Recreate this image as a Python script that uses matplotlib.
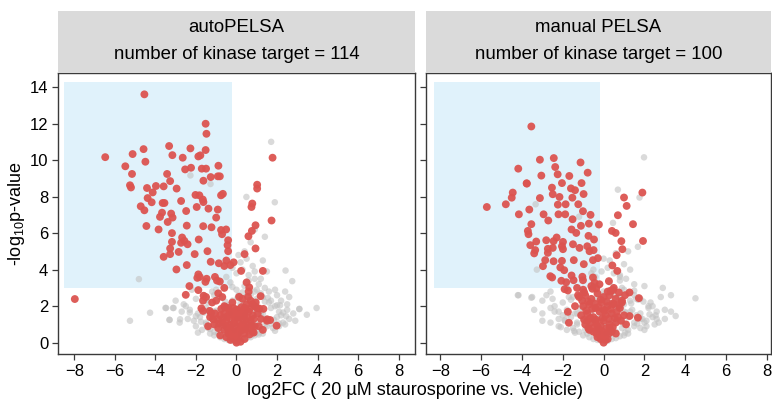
import matplotlib
matplotlib.use('Agg')
import matplotlib.pyplot as plt
from matplotlib.patches import Rectangle

plt.rcParams['font.family'] = ['Liberation Sans', 'DejaVu Sans']
plt.rcParams['mathtext.fontset'] = 'custom'
plt.rcParams['mathtext.rm'] = 'Liberation Sans'
plt.rcParams['mathtext.it'] = 'Liberation Sans:italic'

# panel titles
titles = ['autoPELSA', 'manual PELSA']
n_targets = [114, 100]

# shaded region (log2FC range, -log10 p range)
box_auto = [-8.5, -0.23, 3.0, 14.27]
box_manual = [-8.33, -0.2, 3.0, 14.27]

# ---- autoPELSA: kinase targets (red)
red_auto_x = [-4.54, -6.47, -5.48, -5.12, -5.15, -5.25, -5.2, -4.58, -4.49, -4.41,
              -4.13, -3.97, -3.59, -4.38, -3.32, -3.16, -3.42, -3.27, -2.95, -2.65,
              -2.53, -2.27, -2.24, -1.88, -1.78, -1.52, -1.48, -1.52, -1.71, -1.5,
              -1.63, -1.27, -0.89, -0.92, -0.82, -1.83, -0.76, -0.67, 1.78, 1.02,
              1.02, -4.18, -4.72, -4.54, -3.64, -3.55, -2.73, -2.02, -1.66, -1.63,
              0.78, 0.74, 1.73, 0.94, 0.76, 0.59, 0.94, 0.4, 1.3, 0.23,
              -3.67, -3.77, -3.22, -3.15, -3.39, -2.48, -1.96, -1.38, -0.92, -1.0,
              -4.44, -3.84, -3.18, -2.45, -1.64, -1.23, -0.76, -0.51, -0.71, -1.86,
              -2.68, -2.57, -2.73, -2.41, -3.18, -3.27, -2.85, -3.27, -3.59, -1.43,
              -2.06, -0.41, -0.44, -0.41, -1.27, -0.87, -0.6, -0.5, -0.3, -0.14,
              -2.45, -2.96, -1.88, -1.81, -1.93, -1.47, -1.53, -1.06, -0.96, -0.82,
              -2.32, -1.88, -2.5, -7.97, -1.62, -1.65, -1.73, -1.65, -1.32, -1.25,
              -1.15, 0.13, 0.63, 0.57, 1.19, 0.8, 1.12, 1.33, 1.51, 1.66, 1.98,
              -0.8, -0.6, -0.4, -0.2, 0.0, 0.2, 0.4, 0.6, 0.8, -0.7,
              -0.5, -0.3, -0.1, 0.1, 0.3, 0.5, 0.7, -0.9, -0.6, -0.3,
              0.0, 0.3, 0.6, 0.9, -0.8, -0.4, 0.0, 0.4, 0.8, -0.5,
              -0.2, 0.1, 0.4, -0.3, 0.0, 0.2, -0.1, 0.0, 0.1, -0.6,
              0.5, -1.0, 1.0, -0.2, 0.3, -0.7, 0.7, -0.4, 0.4, 0.0,
              -1.3, -1.1, -1.4, -0.9, 1.2, 1.5, 1.1, 0.6, 0.9, -1.2,
              -0.6, 0.5, 1.3, -1.5,
              -0.75, -0.55, -0.35, -0.15, 0.05, 0.25, 0.45, 0.65, 0.85, -0.65,
              -0.45, -0.25, -0.05, 0.15, 0.35, 0.55, 0.75, -0.85, -0.35, 0.05,
              0.45, 0.85, -0.55, -0.15, 0.25, 0.65, -0.25, 0.15, -0.05, 0.05,
              1.05, -1.05, 0.95, -0.95, 0.35, -0.45]
red_auto_y = [13.6, 10.16, 9.66, 10.33, 9.24, 8.62, 8.5, 10.6, 9.91, 8.47,
              8.23, 8.58, 8.56, 7.92, 10.77, 10.27, 9.24, 8.85, 8.44, 10.13,
              9.49, 10.64, 9.58, 10.2, 10.26, 11.99, 11.44, 10.55, 9.53, 9.53,
              8.87, 9.07, 9.69, 9.11, 9.11, 8.07, 8.07, 8.15, 10.13, 8.65,
              8.44, 7.69, 7.47, 7.25, 7.65, 7.65, 7.76, 8.09, 7.84, 7.7,
              7.62, 7.43, 6.69, 6.43, 6.12, 5.83, 5.16, 4.85, 3.93, 3.93,
              7.12, 6.89, 7.07, 6.85, 6.61, 7.21, 7.43, 7.34, 7.29, 6.85,
              6.39, 6.2, 6.0, 6.41, 6.38, 6.32, 6.17, 6.2, 5.94, 5.65,
              5.76, 5.58, 5.47, 5.39, 5.52, 5.16, 4.97, 4.85, 4.7, 5.01,
              4.85, 5.61, 5.34, 5.01, 4.43, 4.35, 4.2, 4.5, 4.25, 4.4,
              4.25, 4.01, 3.74, 3.6, 3.55, 3.5, 3.33, 3.6, 3.4, 3.35,
              3.1, 2.88, 2.62, 2.39, 2.57, 2.3, 1.88, 1.74, 1.74, 1.62,
              1.28, 2.51, 3.03, 2.51, 2.55, 2.11, 1.87, 1.85, 1.28, 1.24, 0.93,
              1.5, 1.6, 1.4, 1.7, 1.5, 1.6, 1.4, 1.7, 1.5, 1.1,
              1.2, 1.0, 1.2, 1.1, 1.3, 1.0, 1.2, 0.8, 0.7, 0.8,
              0.9, 0.7, 0.8, 0.9, 0.4, 0.5, 0.4, 0.5, 0.6, 0.3,
              0.25, 0.3, 0.2, 0.15, 0.1, 0.05, 0.5, 0.0, 0.6, 2.0,
              2.1, 2.3, 1.9, 2.2, 2.4, 2.5, 2.3, 1.9, 1.9, 1.8,
              1.4, 1.0, 0.9, 2.7, 1.3, 1.2, 0.9, 2.8, 2.0, 2.2,
              3.0, 3.3, 0.7, 2.5,
              1.85, 1.95, 1.75, 1.9, 1.8, 1.95, 1.75, 1.85, 1.3, 1.35,
              1.45, 1.55, 1.35, 1.45, 1.55, 1.35, 0.95, 1.05, 0.55, 0.65,
              0.75, 0.55, 0.95, 1.05, 0.95, 0.45, 0.6, 0.75, 0.3, 0.45,
              1.6, 1.6, 2.2, 1.3, 1.0, 0.8]

# ---- autoPELSA: other proteins (grey)
grey_auto_x = [-1.1, -0.8, -0.6, -0.4, -0.2, 0.1, 0.3, 0.5, 0.7, 0.9, 1.1, -0.9, -0.5, 0.2, 0.6, 1.3,
               -2.0, -1.7, -1.4, -1.1, -0.8, -0.5, -0.2, 0.3, 0.6, 0.9, 1.2, 1.5, 1.8, 2.1, -1.5, -0.9, 0.0, 0.8, 1.4, 2.4,
               -2.8, -2.4, -2.1, -1.8, -1.5, -1.2, -0.9, -0.6, -0.3, 0.2, 0.5, 0.8, 1.1, 1.4, 1.7, 2.0, 2.3, 2.6, 2.9,
               -3.3, -2.0, -1.0, 0.4, 1.2, 2.2,
               -3.5, -3.1, -2.7, -2.3, -1.9, -1.5, -1.1, -0.7, -0.3, 0.1, 0.5, 0.9, 1.3, 1.7, 2.1, 2.5, 2.8, 3.1,
               -2.5, -0.5, 0.7, 1.9,
               -3.0, -2.6, -2.0, -1.4, -0.8, -0.2, 0.4, 1.0, 1.6, 2.2, 2.6, -1.1, 0.1, 0.7, 1.3, 2.0,
               -2.2, -1.2, -0.6, 0.0, 0.4, 0.9, 1.4, 1.9, 2.4, -0.3, 0.6, 1.1,
               -0.5, 0.0, 0.3, 0.6, 0.9, 1.2, 0.2, 0.5, 0.8, -0.2, 0.4, 1.5, 0.1,
               1.71, 0.49, 1.89, 3.95, 3.47, 3.1, 2.75, 2.42, -5.25, -4.26, -4.81,
               -3.47, -3.13, -3.3, -2.78, 0.9, 1.4, -2.27, -1.28, 0.7, 1.3,
               -1.9, -1.6, -1.3, -1.0, -0.7, -0.4, -0.1, 0.2, 0.5, 0.8,
               1.1, 1.4, 1.7, 2.0, 2.3, -1.75, -1.45, -1.15, -0.85, -0.55,
               -0.25, 0.05, 0.35, 0.65, 0.95, 1.25, 1.55, 1.85, 2.15, 2.45,
               -2.3, -1.0, 0.3, 1.0, 1.7, 2.5, -0.2, 0.5, 1.2, -1.6,
               0.9, 1.6, 2.1, -0.6, 0.2, 0.6, 1.0, 1.9, -1.3, 0.0]
grey_auto_y = [0.4, 0.3, 0.2, 0.15, 0.1, 0.1, 0.2, 0.25, 0.3, 0.4, 0.45, 0.5, 0.45, 0.35, 0.45, 0.5,
               0.9, 0.7, 0.8, 0.6, 0.7, 0.6, 0.8, 0.7, 0.6, 0.8, 0.7, 0.9, 0.8, 0.9, 1.0, 0.9, 0.95, 1.0, 0.95, 1.0,
               1.1, 1.3, 1.2, 1.4, 1.1, 1.3, 1.2, 1.4, 1.1, 1.3, 1.2, 1.4, 1.1, 1.3, 1.2, 1.4, 1.1, 1.3, 1.2,
               1.25, 1.45, 1.0, 1.5, 1.5, 1.5,
               1.9, 1.9, 1.7, 1.8, 1.6, 1.9, 1.7, 1.8, 1.6, 1.9, 1.7, 1.8, 1.6, 1.9, 1.7, 1.8, 1.6, 1.85,
               2.0, 2.0, 2.0, 2.0,
               2.3, 2.1, 2.4, 2.2, 2.5, 2.3, 2.2, 2.4, 2.2, 2.3, 2.5, 2.6, 2.6, 2.6, 2.5, 2.6,
               2.9, 2.8, 3.0, 2.9, 3.1, 2.8, 3.0, 2.9, 2.8, 3.3, 3.4, 3.2,
               3.6, 3.8, 4.0, 3.7, 3.9, 3.5, 4.4, 4.6, 4.2, 4.1, 5.0, 3.9, 4.8,
               11.0, 7.98, 7.69, 1.9, 1.53, 1.84, 3.37, 3.95, 1.2, 1.64, 3.48,
               1.9, 1.9, 1.25, 1.28, 6.2, 5.8, 9.16, 8.69, 5.5, 4.5,
               0.55, 1.65, 0.75, 1.75, 0.95, 2.05, 0.65, 2.15, 0.85, 1.95,
               0.55, 2.25, 1.05, 2.05, 1.65, 1.15, 2.35, 1.55, 1.25, 2.25,
               1.95, 2.45, 1.15, 2.35, 2.15, 1.75, 2.45, 1.25, 2.05, 1.45,
               1.65, 2.9, 2.75, 2.9, 2.3, 2.1, 3.05, 2.55, 2.7, 2.6,
               3.5, 2.8, 1.05, 0.9, 0.55, 1.15, 1.6, 0.65, 0.5, 1.3]

# ---- manual PELSA: kinase targets (red)
red_manual_x = [-3.54, -4.18, -3.12, -2.44, -2.37, -2.25, -1.13, -0.78, -3.05, -1.68,
                -3.77, -2.04, -1.08, -2.53, -1.6, -1.4, -2.49, -0.98, -4.45, 1.9,
                1.0, -5.72, -4.79, -4.5, -3.76, -4.15, -3.64, -3.12, -2.94, -2.71,
                -3.54, -3.71, -3.68, -2.16, -2.24, -1.86, -1.88, -2.21, -1.53, -1.24,
                -1.01, -0.64, -1.52, -1.11, -0.72, -0.23, -1.57, -1.34, -0.74, -0.47,
                -3.3, -2.81, -2.45, -2.3, -1.99, -3.59, -3.35, -3.4, -2.73, -2.73,
                -2.49, -2.04, -1.99, -1.5, -1.18, -0.8, -0.69, -0.49, -2.45, -2.86,
                -2.97, -2.04, -2.12, -1.93, -1.46, -0.97, -0.52, -0.28, -2.61, -2.52,
                -2.07, -1.83, -1.57, -1.47, -1.04, -1.01, -0.52, -0.44, -0.36, -1.91,
                -1.75, -1.75, -1.7, 0.41, 0.59, 0.7, 1.13, 1.44, 1.93, 0.87,
                0.92, 0.64, 0.43, 0.67, 0.26, 0.46, 1.27, 1.73, 1.27, 1.68,
                -1.2, -0.9, -0.6, -0.3, 0.0, 0.3, 0.6, 0.9, -1.0, -0.7,
                -0.4, -0.1, 0.2, 0.5, 0.8, -1.1, -0.8, -0.5, -0.2, 0.1,
                0.4, 0.7, 1.0, -0.9, -0.6, -0.3, 0.0, 0.3, 0.6, -0.5,
                -0.2, 0.1, 0.4, -0.3, 0.0, 0.2, -0.1, 0.0, 0.1, -1.3,
                -1.0, -0.6, 0.5, 0.9, -0.8, -0.4, 0.3, -1.4, 1.1, 0.0,
                -0.2, 0.2, -0.7, 0.6,
                -1.05, -0.75, -0.45, -0.15, 0.15, 0.45, 0.75, -0.85, -0.55, -0.25,
                0.05, 0.35, 0.65, -0.95, -0.65, -0.35, -0.05, 0.25, 0.55, 0.85,
                -0.75, -0.45, -0.15, 0.15, 0.45, -0.35, -0.05, 0.25, -0.15, 0.05,
                -1.25, 1.05, -0.95, 0.75, -0.55, 0.35]
red_manual_y = [11.84, 9.53, 10.02, 10.11, 9.62, 9.22, 9.87, 9.31, 9.15, 9.13,
                8.73, 8.74, 8.74, 8.49, 8.45, 8.35, 8.13, 8.14, 8.22, 8.22,
                7.95, 7.43, 7.58, 7.94, 8.71, 7.03, 7.29, 7.92, 7.03, 6.69,
                6.49, 6.12, 5.94, 7.98, 7.56, 7.58, 7.03, 7.03, 7.94, 7.58,
                7.2, 7.0, 6.76, 6.4, 6.52, 6.47, 6.2, 6.01, 5.85, 5.65,
                5.54, 5.61, 5.56, 5.76, 5.52, 5.34, 5.07, 4.89, 5.14, 4.92,
                5.19, 5.28, 5.12, 5.39, 5.19, 5.28, 5.01, 5.07, 4.46, 4.52,
                4.19, 4.48, 4.12, 3.97, 4.52, 4.3, 4.52, 4.63, 3.64, 3.57,
                3.39, 3.31, 3.68, 3.42, 3.61, 3.42, 3.57, 3.28, 2.97, 2.93,
                2.86, 1.69, 1.09, 6.12, 6.01, 6.98, 7.49, 6.49, 5.57, 5.56,
                5.12, 4.79, 4.23, 3.93, 3.37, 2.88, 2.75, 2.44, 1.46, 1.37,
                2.5, 2.6, 2.4, 2.7, 2.5, 2.6, 2.4, 2.3, 2.0, 2.1,
                1.9, 2.2, 2.0, 2.1, 1.9, 1.5, 1.6, 1.4, 1.7, 1.5,
                1.6, 1.4, 1.5, 1.0, 1.1, 0.9, 1.2, 1.0, 1.1, 0.6,
                0.7, 0.5, 0.6, 0.3, 0.25, 0.2, 0.4, 0.0, 0.15, 3.0,
                2.9, 3.1, 3.0, 2.2, 1.2, 1.2, 0.8, 2.0, 1.0, 1.8,
                3.2, 2.8, 0.7, 0.5,
                2.3, 2.25, 2.15, 2.35, 2.25, 2.15, 2.05, 1.75, 1.85, 1.95,
                1.75, 1.85, 1.7, 1.25, 1.35, 1.25, 1.35, 1.3, 1.35, 1.2,
                0.8, 0.85, 0.95, 0.8, 0.85, 0.5, 0.6, 0.5, 0.2, 0.35,
                2.6, 2.6, 2.75, 2.75, 2.95, 2.85]

# ---- manual PELSA: other proteins (grey)
grey_manual_x = [-1.0, -0.7, -0.5, -0.3, -0.1, 0.2, 0.4, 0.6, 0.8, 1.0, 1.2, -0.8, 0.3,
                 -2.2, -1.8, -1.5, -1.2, -0.9, -0.6, -0.3, 0.3, 0.6, 0.9, 1.2, 1.5, 1.8, 2.1, 2.5, -1.3, 0.0, 1.0,
                 -3.0, -2.6, -2.2, -1.9, -1.6, -1.3, -0.9, -0.5, -0.2, 0.2, 0.6, 0.9, 1.2, 1.5, 1.8, 2.1, 2.4, 2.7, 3.0,
                 -2.0, 0.4, 1.6,
                 -3.4, -3.0, -2.6, -2.2, -1.8, -1.4, -1.0, -0.6, -0.2, 0.2, 0.6, 1.0, 1.4, 1.8, 2.2, 2.6, 3.0, 3.3,
                 -2.4, 0.8,
                 -4.2, -3.5, -3.0, -2.5, -2.0, -1.5, -1.0, -0.4, 0.3, 0.8, 1.3, 1.8, 2.3, 2.8, 3.3, 4.5, -2.8, 0.0, 1.5,
                 -2.6, -1.8, -1.0, -0.5, 0.0, 0.5, 1.0, 1.5, 2.0, 2.9, 0.3, 0.8,
                 -0.4, -0.1, 0.2, 0.5, 0.8, 1.1, 0.3, 0.6, 1.0, 0.0, 1.3, -0.6,
                 1.98, 0.7, 1.76, 3.53, -4.17, -3.54, -3.33, -3.27, 1.68, 0.46,
                 -2.0, -1.2, -0.5, 1.2, 2.6,
                 -2.1, -1.75, -1.45, -1.15, -0.85, -0.55, -0.25, 0.15, 0.45, 0.75,
                 1.05, 1.35, 1.65, 1.95, 2.25, -1.9, -1.6, -1.3, -1.0, -0.7,
                 -0.4, 0.1, 0.4, 0.7, 1.0, 1.3, 1.6, 1.9, 2.2, 2.55,
                 -2.4, -1.1, 0.2, 0.9, 1.7, 2.4, -0.3, 0.5, 1.2, -1.7,
                 0.8, 1.5, 2.0, -0.7, 0.1, 0.6, 1.1, 2.0, -1.4, -0.1]
grey_manual_y = [0.4, 0.3, 0.2, 0.15, 0.1, 0.1, 0.2, 0.25, 0.35, 0.4, 0.5, 0.5, 0.45,
                 0.9, 0.7, 0.8, 0.6, 0.7, 0.6, 0.8, 0.7, 0.6, 0.8, 0.7, 0.9, 0.8, 0.9, 1.0, 1.0, 0.9, 1.0,
                 1.2, 1.1, 1.3, 1.2, 1.4, 1.1, 1.3, 1.2, 1.4, 1.1, 1.3, 1.2, 1.4, 1.1, 1.3, 1.2, 1.4, 1.1, 1.3,
                 1.5, 1.5, 1.5,
                 1.8, 1.6, 1.9, 1.7, 1.8, 1.6, 1.9, 1.7, 1.8, 1.6, 1.9, 1.7, 1.8, 1.6, 1.9, 1.7, 1.8, 1.7,
                 2.0, 2.0,
                 2.6, 2.5, 2.3, 2.4, 2.2, 2.5, 2.3, 2.4, 2.2, 2.5, 2.3, 2.4, 2.2, 2.5, 2.6, 2.43, 2.6, 2.6, 2.6,
                 2.8, 3.0, 2.9, 3.1, 2.8, 3.0, 2.9, 3.2, 3.1, 3.0, 3.3, 3.4,
                 3.6, 3.9, 4.1, 3.8, 3.7, 3.5, 4.5, 4.9, 4.3, 4.6, 4.0, 3.8,
                 10.15, 8.38, 7.95, 1.46, 2.6, 2.46, 7.58, 4.0, 5.25, 6.56,
                 5.3, 6.9, 4.0, 5.0, 1.3,
                 0.85, 1.55, 0.65, 1.85, 0.95, 2.15, 0.55, 2.05, 0.75, 1.95,
                 0.55, 2.15, 1.05, 2.25, 1.55, 1.25, 2.35, 1.6, 1.3, 2.2,
                 1.9, 2.4, 1.2, 2.3, 2.1, 1.7, 2.4, 1.3, 2.0, 1.5,
                 1.7, 2.8, 2.75, 3.0, 2.35, 2.0, 3.1, 2.6, 2.7, 2.5,
                 3.6, 2.85, 1.1, 0.95, 0.5, 1.2, 1.65, 0.7, 0.55, 1.35]

x_ticks = [-8, -6, -4, -2, 0, 2, 4, 6, 8]
y_ticks = [0, 2, 4, 6, 8, 10, 12, 14]

red = '#dc5450'
grey = '#c2c2c2'
box_color = '#e0f2fb'
strip_color = '#dadada'
line_color = '#3a3a3a'

fig = plt.figure(figsize=(7.72, 4.03), dpi=100)

panels = [
    (titles[0], n_targets[0], box_auto, grey_auto_x, grey_auto_y, red_auto_x, red_auto_y,
     [0.0751, 0.1216, 0.4624, 0.6973], (-8.8, 8.8), True),
    (titles[1], n_targets[1], box_manual, grey_manual_x, grey_manual_y, red_manual_x, red_manual_y,
     [0.5518, 0.1216, 0.4469, 0.6973], (-8.7, 8.2), False),
]

for title, n, box, gx, gy, rx, ry, rect, xlim, show_y in panels:
    ax = fig.add_axes(rect)
    ax.add_patch(Rectangle((box[0], box[2]), box[1] - box[0], box[3] - box[2],
                           facecolor=box_color, edgecolor='none', zorder=0))
    ax.scatter(gx, gy, s=22, color=grey, alpha=0.6, edgecolors='none', zorder=1)
    ax.scatter(rx, ry, s=32, color=red, alpha=0.95, edgecolors='none', zorder=2)
    ax.set_xlim(*xlim)
    ax.set_ylim(-0.62, 14.77)
    ax.set_xticks(x_ticks)
    ax.set_yticks(y_ticks)
    ax.tick_params(direction='out', length=4, width=0.9, color=line_color,
                   labelsize=12, labelcolor='black', pad=3)
    if not show_y:
        ax.set_yticklabels([])
    for sp in ax.spines.values():
        sp.set_color(line_color)
        sp.set_linewidth(1.0)

    # facet strip
    sax = fig.add_axes([rect[0], 0.8189, rect[2], 0.1538])
    sax.set_facecolor(strip_color)
    sax.set_xticks([])
    sax.set_yticks([])
    for sp in sax.spines.values():
        sp.set_visible(False)
    sax.text(0.5, 0.74, title, ha='center', va='center', fontsize=13.4, transform=sax.transAxes)
    sax.text(0.5, 0.30, 'number of kinase target = {0}'.format(n), ha='center', va='center',
             fontsize=13.4, transform=sax.transAxes)

fig.text(0.537, 0.03, 'log2FC ( 20 µM staurosporine vs. Vehicle)', ha='center', va='center', fontsize=13)
fig.text(0.022, 0.47, r'-log$_{\mathregular{10}}$p-value', ha='center', va='center',
         rotation=90, fontsize=13)

fig.savefig('out.png', dpi=100)
